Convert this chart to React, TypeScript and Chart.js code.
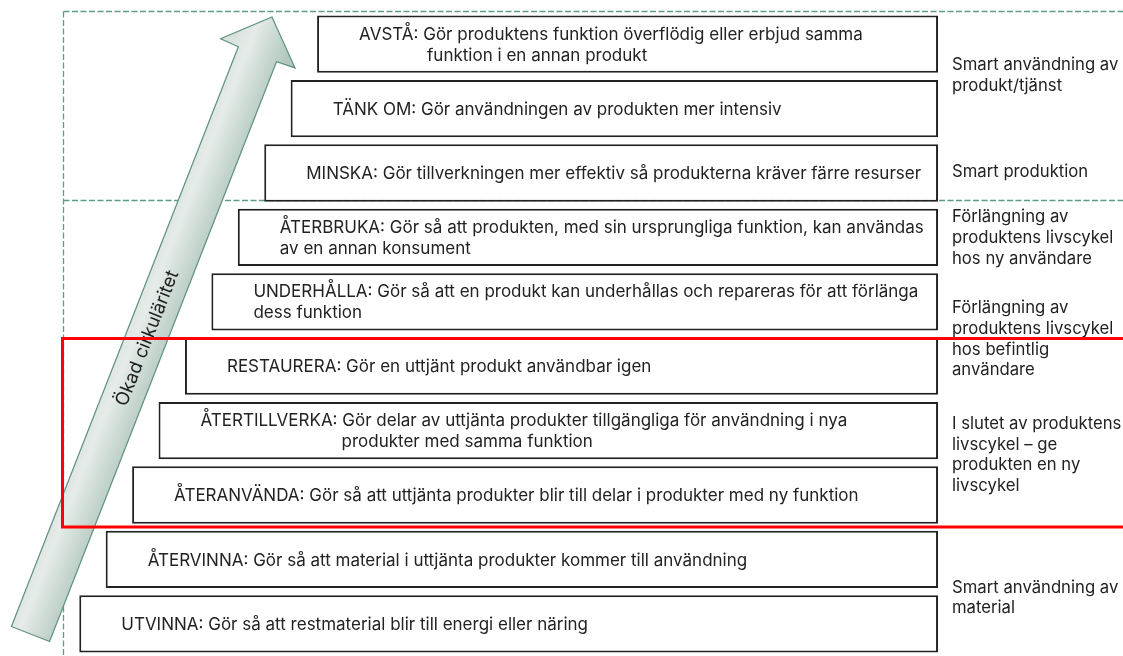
import React, { useEffect, useRef } from "react";
import { Chart, registerables } from "chart.js";

Chart.register(...registerables);

// ---- data ----
const levels = [
  "AVSTÅ",
  "TÄNK OM",
  "MINSKA",
  "ÅTERBRUKA",
  "UNDERHÅLLA",
  "RESTAURERA",
  "ÅTERTILLVERKA",
  "ÅTERANVÄNDA",
  "ÅTERVINNA",
  "UTVINNA",
];

const descriptionLines: string[][] = [
  ["AVSTÅ: Gör produktens funktion överflödig eller erbjud samma", "funktion i en annan produkt"],
  ["TÄNK OM: Gör användningen av produkten mer intensiv"],
  ["MINSKA: Gör tillverkningen mer effektiv så produkterna kräver färre resurser"],
  ["ÅTERBRUKA: Gör så att produkten, med sin ursprungliga funktion, kan användas", "av en annan konsument"],
  ["UNDERHÅLLA: Gör så att en produkt kan underhållas och repareras för att förlänga", "dess funktion"],
  ["RESTAURERA: Gör en uttjänt produkt användbar igen"],
  ["ÅTERTILLVERKA: Gör delar av uttjänta produkter tillgängliga för användning i nya", "produkter med samma funktion"],
  ["ÅTERANVÄNDA: Gör så att uttjänta produkter blir till delar i produkter med ny funktion"],
  ["ÅTERVINNA: Gör så att material i uttjänta produkter kommer till användning"],
  ["UTVINNA: Gör så att restmaterial blir till energi eller näring"],
];

// staircase start (circularity step) and common end
const barStart = [9, 8, 7, 6, 5, 4, 3, 2, 1, 0];
const barEnd = [32.5, 32.5, 32.5, 32.5, 32.5, 32.5, 32.5, 32.5, 32.5, 32.5];

const groupLabels: string[][] = [
  ["Smart användning av", "produkt/tjänst"],
  ["Smart produktion"],
  ["Förlängning av", "produktens livscykel", "hos ny användare"],
  ["Förlängning av", "produktens livscykel", "hos befintlig", "användare"],
  ["I slutet av produktens", "livscykel – ge", "produkten en ny", "livscykel"],
  ["Smart användning av", "material"],
];
// vertical anchor of each group, in category-index units
const groupAnchor = [0.49, 1.99, 3.01, 4.58, 6.38, 8.6];

const arrowLabel = "Ökad cirkuläritet";

// ---- layout / style (not data) ----
const secondLineIndent = [68, 0, 0, 0, 0, 0, 141, 0, 0, 0];
const FONT = "17px Inter, 'Noto Sans', sans-serif";
const GROUP_FONT = "16.7px Inter, 'Noto Sans', sans-serif";
const TEXT_COLOR = "#222222";

const diagramPlugin = {
  id: "diagramDecor",
  beforeDatasetsDraw(chart: any) {
    const ctx = chart.ctx as CanvasRenderingContext2D;
    ctx.save();
    ctx.strokeStyle = "#5e9c86";
    ctx.lineWidth = 1.3;
    ctx.setLineDash([6, 2.5]);
    ctx.beginPath();
    ctx.moveTo(63.5, 11.5);
    ctx.lineTo(1130, 11.5);
    ctx.moveTo(63.5, 200.5);
    ctx.lineTo(1130, 200.5);
    ctx.moveTo(63.5, 11.5);
    ctx.lineTo(63.5, 660);
    ctx.stroke();
    ctx.restore();
  },
  afterDatasetsDraw(chart: any) {
    const ctx = chart.ctx as CanvasRenderingContext2D;
    const xs = chart.scales.x;
    const ys = chart.scales.y;
    ctx.save();
    ctx.font = FONT;
    ctx.fillStyle = TEXT_COLOR;
    ctx.textBaseline = "middle";
    ctx.textAlign = "left";
    const lh = 21;
    // box texts
    descriptionLines.forEach((lines, i) => {
      const x0 = xs.getPixelForValue(barStart[i]) + 42;
      const yc = ys.getPixelForValue(i) + 1;
      const n = lines.length;
      lines.forEach((ln, k) => {
        const y = yc + (k - (n - 1) / 2) * lh;
        const x = x0 + (k > 0 ? secondLineIndent[i] : 0);
        ctx.fillText(ln, x, y);
      });
    });
    // right side group labels
    ctx.font = GROUP_FONT;
    const glh = 20.7;
    groupLabels.forEach((lines, g) => {
      const yc = ys.getPixelForValue(groupAnchor[g]);
      const n = lines.length;
      lines.forEach((ln, k) => {
        ctx.fillText(ln, 952, yc + (k - (n - 1) / 2) * glh);
      });
    });

    // arrow
    const tail = { x: 30.5, y: 634 };
    const tip = { x: 272, y: 17 };
    const dx = tip.x - tail.x;
    const dy = tip.y - tail.y;
    const L = Math.sqrt(dx * dx + dy * dy);
    const ang = Math.atan2(dy, dx);
    ctx.translate(tail.x, tail.y);
    ctx.rotate(ang);
    const hw = 20.5;
    const bw = 40;
    const hl = 40;
    ctx.beginPath();
    ctx.moveTo(0, -hw);
    ctx.lineTo(L - hl, -hw);
    ctx.lineTo(L - hl + 1, -bw);
    ctx.lineTo(L, 0);
    ctx.lineTo(L - hl + 1, bw);
    ctx.lineTo(L - hl, hw);
    ctx.lineTo(0, hw);
    ctx.closePath();
    const grad = ctx.createLinearGradient(0, -28, 0, 28);
    grad.addColorStop(0, "#d8e2dd");
    grad.addColorStop(0.3, "#e6ece9");
    grad.addColorStop(1, "#b2c8be");
    ctx.fillStyle = grad;
    ctx.fill();
    ctx.strokeStyle = "#5e917f";
    ctx.lineWidth = 1.2;
    ctx.setLineDash([]);
    ctx.stroke();
    // arrow label
    ctx.fillStyle = "#1f1f1f";
    ctx.font = "18.5px Inter, 'Noto Sans', sans-serif";
    ctx.textAlign = "center";
    ctx.textBaseline = "middle";
    ctx.fillText(arrowLabel, 318, 1);
    ctx.restore();

    // red highlight frame
    ctx.save();
    ctx.strokeStyle = "#ff0000";
    ctx.lineWidth = 3;
    ctx.strokeRect(62.5, 338.5, 1080, 188.5);
    ctx.restore();
  },
};

export default function App() {
  const ref = useRef<HTMLCanvasElement | null>(null);
  useEffect(() => {
    if (!ref.current) return;
    const chart = new Chart(ref.current, {
      type: "bar",
      data: {
        labels: levels,
        datasets: [
          {
            data: levels.map((_, i) => [barStart[i], barEnd[i]]) as any,
            backgroundColor: "#ffffff",
            borderColor: "#222222",
            borderWidth: 2,
            borderSkipped: false,
            barPercentage: 0.89,
            categoryPercentage: 1,
          },
        ],
      },
      options: {
        indexAxis: "y",
        responsive: false,
        animation: false,
        devicePixelRatio: 1,
        layout: { padding: { top: 12, left: 0, right: 0, bottom: 0 } },
        scales: {
          x: { type: "linear", min: -3, max: 39.5, display: false },
          y: { type: "category", display: false, offset: true },
        },
        plugins: {
          legend: { display: false },
          tooltip: { enabled: false },
        },
      },
      plugins: [diagramPlugin],
    });
    return () => chart.destroy();
  }, []);
  return (
    <div style={{ position: "absolute", left: 0, top: 0, width: 1123, height: 656, background: "#fff" }}>
      <canvas ref={ref} width={1123} height={656} style={{ display: "block" }} />
    </div>
  );
}
